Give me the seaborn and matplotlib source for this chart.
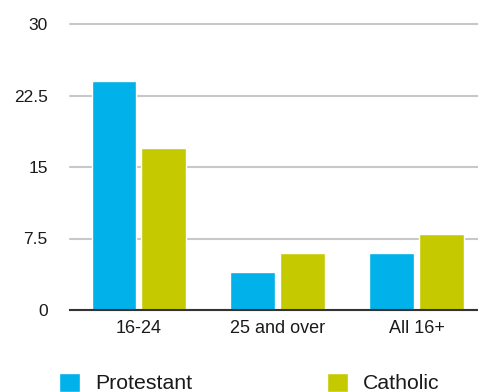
import matplotlib
matplotlib.use('Agg')
import matplotlib.pyplot as plt
import seaborn as sns
import pandas as pd
from matplotlib.patches import Patch

categories = ['16-24', '25 and over', 'All 16+']
groups = ['Protestant', 'Catholic']
protestant = [24, 4, 6]
catholic = [17, 6, 8]
colors = ['#00b1ea', '#c5c900']

df = pd.DataFrame({
    'age': categories * 2,
    'group': [groups[0]] * 3 + [groups[1]] * 3,
    'value': protestant + catholic,
})

sns.set_style('white')
plt.rcParams['font.family'] = ['Liberation Sans', 'DejaVu Sans']

fig = plt.figure(figsize=(4.78, 3.92), dpi=100)
ax = fig.add_axes([70 / 478, 1 - 310 / 392, 1 - 70 / 478, 286 / 392])

sns.barplot(data=df, x='age', y='value', hue='group', palette=colors,
            width=0.72, gap=0.1, saturation=1, ax=ax, legend=False)

ax.set_xlim(-0.497, 2.443)
ax.set_ylim(0, 30)
ax.set_yticks([0, 7.5, 15, 22.5, 30])
ax.set_yticklabels(['0', '7.5', '15', '22.5', '30'])
ax.yaxis.grid(True, color='#c8c8c8', linewidth=1.5, clip_on=False)
ax.set_axisbelow(True)
for s in ['top', 'right', 'left']:
    ax.spines[s].set_visible(False)
ax.spines['bottom'].set_color('#333333')
ax.spines['bottom'].set_linewidth(1.5)
ax.tick_params(axis='y', length=0, pad=16, labelsize=12.5, labelcolor='#1a1a1a')
ax.tick_params(axis='x', length=0, pad=7, labelsize=13, labelcolor='#1a1a1a')
ax.set_xlabel('')
ax.set_ylabel('')

# legend low at the bottom, kept just inside the figure
handles = [Patch(facecolor=c, label=g) for c, g in zip(colors, groups)]
fig.legend(handles=handles, loc='upper left', bbox_to_anchor=(59 / 478, 1 - 372.5 / 392),
           ncol=2, frameon=False, fontsize=15.3, handlelength=1.0, handleheight=1.0,
           handletextpad=0.72, columnspacing=6.3, borderpad=0, borderaxespad=0,
           labelcolor='#1a1a1a')

fig.savefig('out.png', dpi=100)
